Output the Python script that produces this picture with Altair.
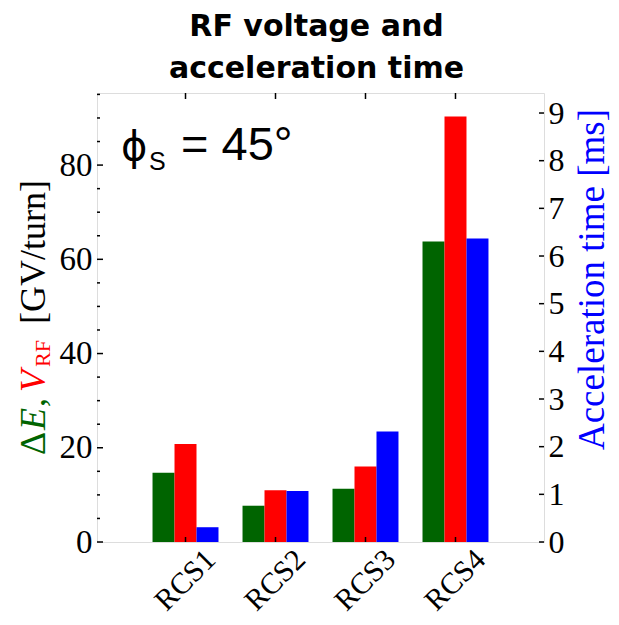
import altair as alt
import pandas as pd

# ---- data ----
categories = ["RCS1", "RCS2", "RCS3", "RCS4"]
delta_e = [14.7, 7.7, 11.3, 63.8]      # GV/turn (green)
v_rf = [20.8, 11.0, 16.0, 90.3]        # GV/turn (red)
acc_time = [0.31, 1.07, 2.32, 6.37]    # ms (blue, right axis)

series_names = ["dE", "VRF", "time"]
series_colors = ["#006400", "#ff0000", "#0000ff"]

left_major = [0, 20, 40, 60, 80]
left_minor = [5, 10, 15, 25, 30, 35, 45, 50, 55, 65, 70, 75, 85, 90, 95]
right_ticks = [0, 1, 2, 3, 4, 5, 6, 7, 8, 9]

title_lines = ["RF voltage and", "acceleration time"]
left_title_parts = ["\u0394", "E", ",", "V", "RF", "[GV/turn]"]
right_title = "Acceleration time [ms]"
phase_parts = ["\u03d5", "S", "= 45\u00b0"]

LEFT_MAX = 95.3
RIGHT_MAX = 9.42
W, H = 447, 449
SERIF = "Liberation Serif"
SANS = "Liberation Sans"

left_df = pd.DataFrame({
    "cat": categories * 2,
    "series": ["dE"] * 4 + ["VRF"] * 4,
    "value": delta_e + v_rf,
})
right_df = pd.DataFrame({"cat": categories, "series": ["time"] * 4, "value": acc_time})

x_scale = alt.Scale(domain=categories, paddingInner=0.267, paddingOuter=0.617)
off_scale = alt.Scale(domain=series_names, paddingInner=0, paddingOuter=0)
color_scale = alt.Scale(domain=series_names, range=series_colors)
yl = alt.Scale(domain=[0, LEFT_MAX], nice=False, zero=True)
yr = alt.Scale(domain=[0, RIGHT_MAX], nice=False, zero=True)

x_axis = alt.Axis(title=None, labelAngle=315, labelAlign="center", labelBaseline="middle",
                  labelFont=SERIF, labelFontSize=30, labelColor="black", labelPadding=38,
                  ticks=False, tickSize=0, domain=False, grid=False)
x_enc = alt.X("cat:N", scale=x_scale, sort=categories, axis=x_axis)
xoff_enc = alt.XOffset("series:N", scale=off_scale, sort=series_names)
color_enc = alt.Color("series:N", scale=color_scale, legend=None)

bars_left = alt.Chart(left_df).mark_bar().encode(
    x=x_enc, xOffset=xoff_enc,
    y=alt.Y("value:Q", scale=yl, axis=alt.Axis(
        orient="left", title=None, values=left_major, labelFont=SERIF, labelFontSize=33,
        labelColor="black", labelPadding=5, ticks=False, tickSize=0, domain=False, grid=False)),
    color=color_enc,
)
bars_right = alt.Chart(right_df).mark_bar().encode(
    x=x_enc, xOffset=xoff_enc,
    y=alt.Y("value:Q", scale=yr, axis=alt.Axis(
        orient="right", title=right_title, values=right_ticks, labelFont=SERIF, labelFontSize=32,
        labelColor="black", labelPadding=4, ticks=False, tickSize=0, domain=False, grid=False,
        titleFont=SERIF, titleFontSize=37, titleFontWeight="normal", titleColor="#0000ff",
        titleAngle=270, titleAlign="center", titleBaseline="alphabetic", titleX=59, titleY=186)),
    color=color_enc,
)

# inward frame ticks
def yticks(vals, scale, x1, x2):
    return alt.Chart(pd.DataFrame({"v": vals})).mark_rule(color="black", strokeWidth=1.5).encode(
        y=alt.Y("v:Q", scale=scale, axis=None), x=alt.value(x1), x2=alt.value(x2))

t_left_major = yticks(left_major, yl, 0, 6)
t_left_minor = yticks(left_minor, yl, 0, 3)
t_right = yticks(right_ticks, yr, W, W - 5)

cat_df = pd.DataFrame({"cat": categories})
t_bottom = alt.Chart(cat_df).mark_rule(color="black", strokeWidth=1.5).encode(
    x=x_enc, y=alt.value(H), y2=alt.value(H - 5))
t_top = alt.Chart(cat_df).mark_rule(color="black", strokeWidth=1.5).encode(
    x=x_enc, y=alt.value(0), y2=alt.value(6))

def label(txt, x, y, **kw):
    return alt.Chart(pd.DataFrame({"t": [txt]})).mark_text(**kw).encode(
        text="t:N", x=alt.value(x), y=alt.value(y))

# chart title (two lines)
title1 = label(title_lines[0], W / 2 - 4, -57, font="DejaVu Sans", fontWeight="bold",
               fontSize=30, align="center", baseline="alphabetic", color="black")
title2 = label(title_lines[1], W / 2 - 4, -15, font="DejaVu Sans", fontWeight="bold",
               fontSize=30, align="center", baseline="alphabetic", color="black")

# left axis title, rotated, multi-coloured
lt_common = dict(font=SERIF, angle=270, align="left", baseline="alphabetic")
lt = [
    label(left_title_parts[0], -52, 362, fontSize=36, color="#006400", **lt_common),
    label(left_title_parts[1], -52, 337, fontSize=36, color="#006400", fontStyle="italic", **lt_common),
    label(left_title_parts[2], -52, 314, fontSize=36, color="#006400", **lt_common),
    label(left_title_parts[3], -52, 299, fontSize=36, color="#ff0000", fontStyle="italic", **lt_common),
    label(left_title_parts[4], -47, 274, fontSize=22, color="#ff0000", **lt_common),
    label(left_title_parts[5], -52, 231, fontSize=36, color="black", **lt_common),
]

# phase annotation
ph = [
    label(phase_parts[0], 24, 67, font="DejaVu Sans", fontSize=40, align="left", baseline="alphabetic", color="black"),
    label(phase_parts[1], 52, 77, font=SANS, fontSize=25, align="left", baseline="alphabetic", color="black"),
    label(phase_parts[2], 84, 67, font=SANS, fontSize=47, align="left", baseline="alphabetic", color="black"),
]

chart = alt.layer(
    bars_left, bars_right, t_left_major, t_left_minor, t_right, t_bottom, t_top,
    title1, title2, *lt, *ph,
).resolve_scale(y="independent").properties(
    width=W, height=H,
    autosize=alt.AutoSizeParams(type="none"),
    padding={"left": 89, "top": 85, "right": 67, "bottom": 75},
).configure_view(stroke="black", strokeWidth=2).configure(background="white")

chart.save("out.html", embed_options={"renderer": "svg", "actions": False})
